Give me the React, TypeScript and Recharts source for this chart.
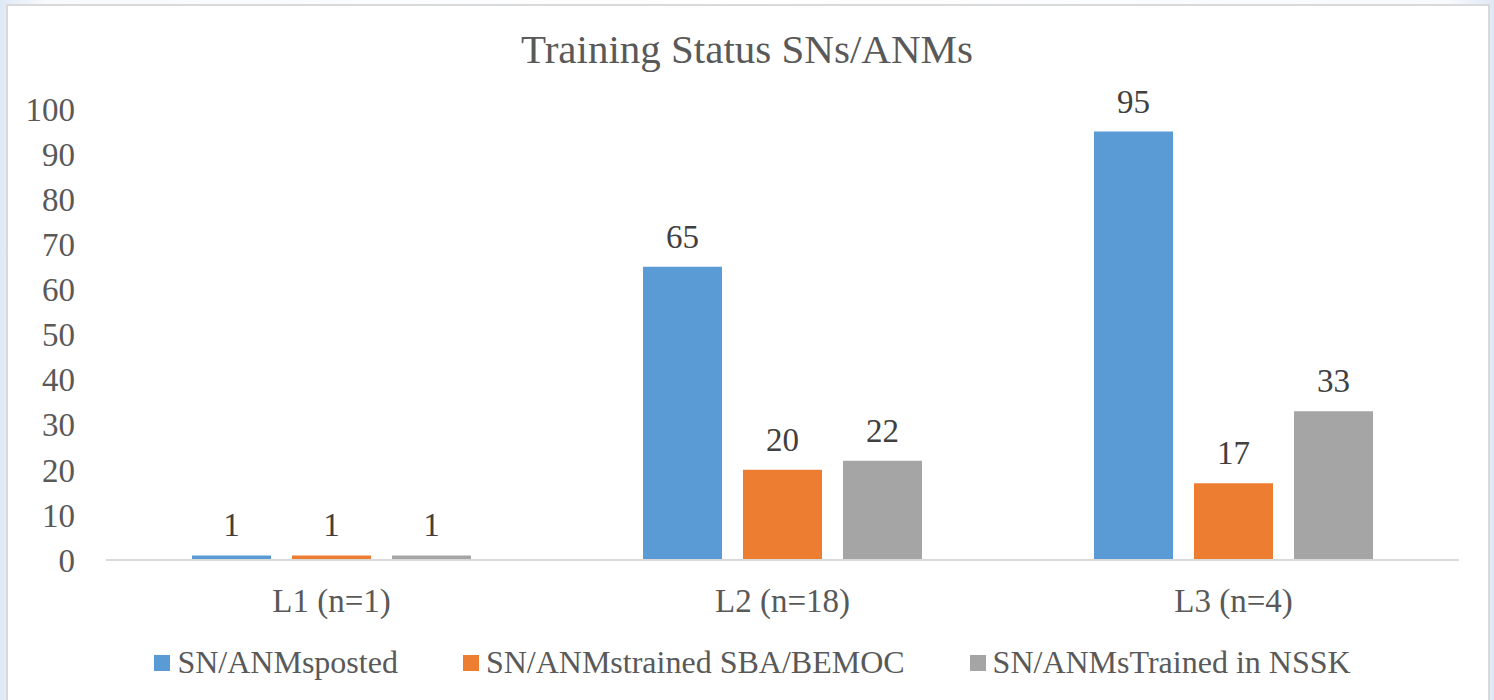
import React from 'react';
import { BarChart, Bar, XAxis, YAxis, Legend, LabelList } from 'recharts';

const categories = ['L1 (n=1)', 'L2 (n=18)', 'L3 (n=4)'];
const posted = [1, 65, 95];
const trainedSba = [1, 20, 17];
const trainedNssk = [1, 22, 33];
const yTicks = [0, 10, 20, 30, 40, 50, 60, 70, 80, 90, 100];

const SERIES = [
  { key: 'posted', name: 'SN/ANMsposted', color: '#5B9BD5' },
  { key: 'trainedSba', name: 'SN/ANMstrained SBA/BEMOC', color: '#ED7D31' },
  { key: 'trainedNssk', name: 'SN/ANMsTrained in NSSK', color: '#A5A5A5' },
];

const data = categories.map((name, i) => ({
  name,
  posted: posted[i],
  trainedSba: trainedSba[i],
  trainedNssk: trainedNssk[i],
}));

const FONT = 'Liberation Serif';
const TEXT = '#595959';

const LegendContent = () => (
  <div style={{ display: 'flex', justifyContent: 'center', alignItems: 'center', paddingLeft: 11 }}>
    {SERIES.map((s, i) => (
      <div
        key={s.key}
        style={{ display: 'flex', alignItems: 'center', marginLeft: i === 0 ? 0 : 65 }}
      >
        <div style={{ width: 16, height: 16, background: s.color, marginRight: 7 }} />
        <span style={{ fontFamily: FONT, fontSize: 32, lineHeight: '33px', color: TEXT }}>
          {s.name}
        </span>
      </div>
    ))}
  </div>
);

export default function App() {
  return (
    <div
      style={{
        position: 'absolute',
        left: 0,
        top: 0,
        width: 1494,
        height: 700,
        overflow: 'hidden',
        fontFamily: FONT,
        background: 'linear-gradient(90deg, #dfe9f6 0%, #f7f9fc 3%, #ffffff 50%, #f7f9fc 97%, #dfe9f6 100%)',
      }}
    >
      <div
        style={{
          position: 'absolute',
          left: 6,
          top: 4,
          width: 1480,
          height: 720,
          background: '#ffffff',
          border: '2px solid #d9d9d9',
        }}
      />
      <div
        style={{
          position: 'absolute',
          left: 0,
          top: 29,
          width: 1494,
          textAlign: 'center',
          fontFamily: FONT,
          fontSize: 41,
          lineHeight: '41px',
          color: TEXT,
        }}
      >
        Training Status SNs/ANMs
      </div>
      <div style={{ position: 'absolute', left: 0, top: 0 }}>
        <BarChart
          width={1494}
          height={700}
          data={data}
          margin={{ top: 109, right: 35, left: 0, bottom: 0 }}
          barSize={79}
          barGap={21}
          style={{ fontFamily: FONT }}
        >
          <XAxis
            dataKey="name"
            height={140}
            axisLine={{ stroke: '#d9d9d9', strokeWidth: 2 }}
            tickLine={false}
            tickSize={0}
            tickMargin={29}
            tick={{ fontFamily: FONT, fontSize: 33, fill: TEXT }}
          />
          <YAxis
            width={106}
            domain={[0, 100]}
            ticks={yTicks}
            interval={0}
            axisLine={false}
            tickLine={false}
            tickSize={0}
            tickMargin={31}
            tick={{ fontFamily: FONT, fontSize: 33, fill: TEXT }}
          />
          <Legend
            content={<LegendContent />}
            layout="horizontal"
            verticalAlign="middle"
            wrapperStyle={{ left: 0, top: 646, width: 1494 }}
          />
          {SERIES.map((s) => (
            <Bar key={s.key} dataKey={s.key} name={s.name} fill={s.color} isAnimationActive={false}>
              <LabelList
                dataKey={s.key}
                position="top"
                offset={19}
                fontFamily={FONT}
                fontSize={33}
                fill="#404040"
              />
            </Bar>
          ))}
        </BarChart>
      </div>
    </div>
  );
}
